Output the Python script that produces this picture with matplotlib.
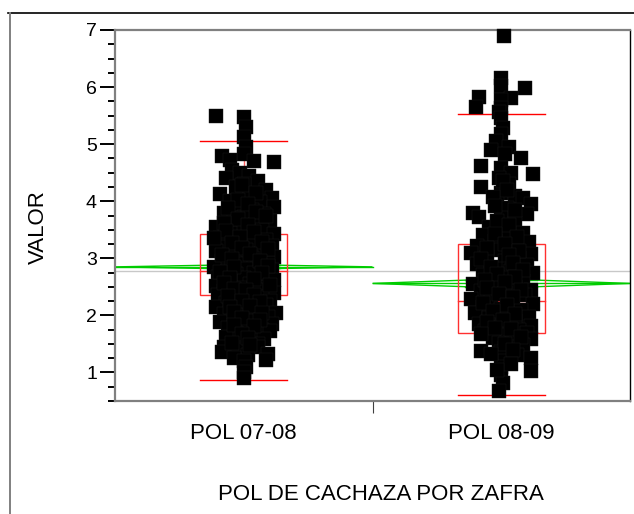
import numpy as np
import matplotlib
matplotlib.use("Agg")
import matplotlib.pyplot as plt
from matplotlib.lines import Line2D
from matplotlib.patches import Polygon, Rectangle
from matplotlib.ticker import FixedLocator, MultipleLocator

plt.rcParams['font.family'] = ['Liberation Sans', 'DejaVu Sans']

# categorias
categories = ["POL 07-08", "POL 08-09"]

# valores de POL 07-08 y su dispersion horizontal
pol_0708 = [5.49, 5.47, 5.30, 5.12, 4.95, 4.82, 4.80, 4.72, 4.70, 4.68,
            4.55, 4.50, 4.45, 4.40, 4.35, 4.30, 4.25, 4.20, 4.12, 4.10,
            4.05, 4.00, 3.98, 3.92, 3.90, 3.85, 3.80, 3.78, 3.72, 3.70,
            3.65, 3.60, 3.55, 3.52, 3.50, 3.45, 3.42, 3.40, 3.35, 3.32,
            3.30, 3.25, 3.22, 3.20, 3.15, 3.12, 3.10, 3.05, 3.02, 3.00,
            2.95, 2.92, 2.90, 2.88, 2.85, 2.82, 2.80, 2.78, 2.75, 2.72,
            2.70, 2.68, 2.65, 2.62, 2.60, 2.58, 2.55, 2.52, 2.50, 2.48,
            2.45, 2.42, 2.40, 2.38, 2.35, 2.32, 2.30, 2.28, 2.25, 2.22,
            2.20, 2.18, 2.15, 2.12, 2.10, 2.05, 2.02, 2.00, 1.98, 1.95,
            1.90, 1.88, 1.85, 1.80, 1.78, 1.75, 1.72, 1.70, 1.65, 1.62,
            1.58, 1.55, 1.50, 1.45, 1.44, 1.40, 1.35, 1.32, 1.30, 1.25,
            1.22, 1.20, 1.10, 1.00, 0.90,
            4.28, 4.15, 4.02, 3.95, 3.88, 3.82, 3.75, 3.68, 3.62, 3.58,
            3.48, 3.46, 3.38, 3.36, 3.28, 3.26, 3.18, 3.16, 3.08, 3.06,
            2.98, 2.96, 2.86, 2.84, 2.76, 2.74, 2.66, 2.64, 2.56, 2.54,
            2.46, 2.44, 2.36, 2.34, 2.26, 2.24, 2.16, 2.14, 2.06, 2.04,
            1.96, 1.92, 1.84, 1.82, 1.68, 1.60, 1.52, 1.48]
jit_0708 = [-0.109, 0.000, 0.008, 0.000, 0.008, 0.000, -0.085, -0.054, 0.039, 0.117,
            -0.047, -0.016, 0.019, -0.070, 0.054, 0.000, -0.031, 0.085, -0.093, 0.023,
            0.109, -0.054, 0.062, -0.016, 0.117, 0.031, -0.078, 0.078, 0.000, -0.039,
            0.101, 0.047, -0.109, -0.008, 0.070, -0.054, 0.117, 0.023, -0.093, 0.085,
            -0.023, 0.039, 0.109, -0.070, 0.008, -0.109, 0.070, -0.039, 0.117, 0.031,
            -0.085, 0.093, -0.016, 0.054, -0.117, 0.008, 0.109, -0.062, 0.039, -0.031,
            0.078, -0.101, 0.000, 0.117, -0.054, 0.062, 0.023, -0.109, 0.093, -0.016,
            0.047, -0.078, 0.117, 0.000, -0.101, 0.070, -0.039, 0.031, 0.101, -0.070,
            0.008, 0.085, -0.109, -0.023, 0.054, 0.124, -0.078, 0.023, 0.093, -0.047,
            0.039, -0.093, 0.109, 0.000, -0.062, 0.070, 0.101, -0.031, 0.031, -0.070,
            0.078, 0.000, 0.054, -0.078, 0.054, -0.023, -0.085, 0.093, 0.016, -0.039,
            0.085, 0.000, 0.008, 0.000, 0.000,
            -0.008, 0.047, -0.023, 0.016, -0.062, 0.047, 0.085, -0.023, -0.078, 0.016,
            -0.070, 0.039, -0.016, -0.117, 0.070, -0.047, -0.008, 0.093, 0.023, -0.085,
            -0.047, 0.062, 0.093, -0.039, -0.093, 0.070, -0.054, 0.039, -0.078, 0.101,
            -0.039, 0.008, 0.039, -0.062, -0.008, 0.062, 0.023, -0.054, -0.039, 0.070,
            -0.008, 0.062, -0.039, 0.039, -0.008, 0.016, -0.047, 0.023]

# valores de POL 08-09
pol_0809 = [6.89, 6.16, 6.02, 5.98, 5.82, 5.80, 5.78, 5.65, 5.63, 5.56,
            5.45, 5.28, 5.18, 5.05, 4.95, 4.90, 4.82, 4.75, 4.62, 4.58,
            4.50, 4.47, 4.40, 4.30, 4.25, 4.15, 4.10, 4.05, 4.00, 3.95,
            3.88, 3.80, 3.78, 3.72, 3.70, 3.62, 3.55, 3.50, 3.45, 3.40,
            3.35, 3.30, 3.28, 3.22, 3.20, 3.15, 3.10, 3.08, 3.02, 3.00,
            2.95, 2.90, 2.88, 2.82, 2.78, 2.75, 2.70, 2.65, 2.60, 2.55,
            2.52, 2.50, 2.45, 2.42, 2.40, 2.35, 2.30, 2.28, 2.25, 2.20,
            2.15, 2.12, 2.10, 2.05, 2.00, 1.98, 1.95, 1.90, 1.85, 1.82,
            1.80, 1.75, 1.72, 1.70, 1.65, 1.60, 1.58, 1.55, 1.52, 1.48,
            1.45, 1.42, 1.37, 1.35, 1.30, 1.26, 1.20, 1.10, 1.03, 0.95,
            0.82, 0.68,
            4.35, 4.20, 4.08, 3.92, 3.85, 3.65, 3.58, 3.42, 3.38, 3.25,
            3.18, 3.12, 3.05, 2.98, 2.92, 2.85, 2.80, 2.72, 2.68, 2.62,
            2.58, 2.48, 2.44, 2.38, 2.32, 2.22, 2.18, 2.08, 2.02, 1.92,
            1.88, 1.78, 1.76, 1.68, 1.62, 1.50, 1.40, 1.32, 1.15, 1.05]
jit_0809 = [0.012, 0.000, 0.000, 0.093, -0.085, 0.039, 0.000, -0.097, 0.000, -0.008,
            0.000, 0.008, 0.000, -0.019, 0.031, -0.039, 0.016, 0.078, -0.078, 0.000,
            0.039, 0.124, -0.008, 0.031, -0.078, 0.000, 0.054, 0.085, -0.016, 0.117,
            0.023, -0.109, 0.101, -0.085, 0.000, 0.054, -0.047, 0.016, 0.085, -0.070,
            0.031, -0.023, 0.109, -0.093, 0.047, 0.000, -0.117, 0.117, -0.054, 0.070,
            0.016, -0.093, 0.101, -0.023, 0.039, 0.124, -0.070, 0.008, 0.085, -0.109,
            -0.031, 0.054, 0.117, -0.078, 0.016, 0.093, -0.039, -0.117, 0.039, 0.124,
            -0.070, 0.000, 0.078, -0.101, 0.023, 0.109, -0.047, 0.054, -0.085, 0.117,
            0.000, 0.070, -0.062, 0.101, 0.023, -0.031, 0.117, 0.054, -0.008, 0.085,
            0.039, 0.016, -0.078, 0.000, 0.062, 0.117, 0.016, 0.000, 0.117, 0.000,
            0.008, -0.008,
            0.008, 0.023, -0.031, -0.023, 0.054, -0.016, 0.031, -0.023, 0.062, 0.016,
            -0.054, 0.070, 0.031, -0.078, 0.047, -0.039, 0.085, -0.016, 0.054, -0.062,
            0.016, -0.054, 0.078, -0.008, 0.047, -0.070, 0.023, -0.031, 0.054, 0.008,
            -0.054, -0.023, 0.039, -0.078, 0.078, 0.016, 0.047, -0.039, 0.039, -0.016]

# resumen por grupo
q1 = [2.35, 1.69]
median = [2.77, 2.26]
q3 = [3.42, 3.25]
whisk_lo = [0.86, 0.60]
whisk_hi = [5.05, 5.53]
means = [2.85, 2.56]
mean_ci = [0.04, 0.08]
grand_mean = 2.78

W, H = 634, 514
fig = plt.figure(figsize=(W / 100, H / 100), dpi=100)
ax = fig.add_axes([115 / W, 1 - 401 / H, 515 / W, 371 / H])

centers = [0.5, 1.5]
box_hw = 0.168

# linea de la media general
ax.axhline(grand_mean, color='#c8c8c8', lw=1.0, zorder=1)

for i, c in enumerate(centers):
    # diamante de la media
    x0, x1 = c - 0.5, c + 0.5
    m, ci = means[i], mean_ci[i]
    ax.add_patch(Polygon([[x0, m], [c, m + ci], [x1, m], [c, m - ci]],
                         closed=True, fill=False, edgecolor='#00cc00', lw=1.0, zorder=2))
    ax.plot([x0, x1], [m, m], color='#00cc00', lw=1.0, zorder=2)
    ov = ci * np.sqrt(2) / 2
    for s in (1, -1):
        ax.plot([c - 0.14, c + 0.14], [m + s * ov, m + s * ov],
                color='#00cc00', lw=1.0, zorder=2)

    # caja de cuantiles
    ax.add_patch(Rectangle((c - box_hw, q1[i]), 2 * box_hw, q3[i] - q1[i],
                           fill=False, edgecolor='#ff3030', lw=1.0, zorder=3))
    ax.plot([c - box_hw, c + box_hw], [median[i], median[i]], color='#ff3030', lw=1.0, zorder=3)
    ax.plot([c - box_hw, c + box_hw], [whisk_hi[i], whisk_hi[i]], color='#ff0000', lw=1.0, zorder=3)
    ax.plot([c - box_hw, c + box_hw], [whisk_lo[i], whisk_lo[i]], color='#ff0000', lw=1.0, zorder=3)
    ax.plot([c, c], [q3[i], whisk_hi[i]], color='#ff6060', lw=1.0, zorder=3)
    ax.plot([c, c], [whisk_lo[i], q1[i]], color='#ff6060', lw=1.0, zorder=3)

# puntos
for c, vals, jit in zip(centers, [pol_0708, pol_0809], [jit_0708, jit_0809]):
    ax.scatter(c + np.array(jit), vals, marker='s', s=92, c='black',
               edgecolors='#1a1a1a', linewidths=0.3, zorder=5, clip_on=False)

ax.set_xlim(0, 2)
ax.set_ylim(0.5, 7)

# ejes
for side in ('left', 'top', 'bottom'):
    ax.spines[side].set_color('#808080')
    ax.spines[side].set_linewidth(1.6)
ax.spines['right'].set_color('black')
ax.spines['right'].set_linewidth(1.0)

ax.yaxis.set_major_locator(MultipleLocator(1))
ax.yaxis.set_minor_locator(MultipleLocator(0.25))
ax.tick_params(axis='y', which='major', length=11, width=1.4, color='black',
               labelsize=14, pad=2)
ax.tick_params(axis='y', which='minor', length=5, width=1.4, color='black')
ax.set_yticks([1, 2, 3, 4, 5, 6, 7])

ax.xaxis.set_major_locator(FixedLocator(centers))
ax.set_xticklabels(categories)
ax.xaxis.set_minor_locator(FixedLocator([1.0]))
ax.tick_params(axis='x', which='major', length=0, labelsize=16, pad=16)
ax.tick_params(axis='x', which='minor', length=8.5, width=0.8, color='#404040')

fig.text(38 / W, 1 - 227 / H, "VALOR", rotation=90, ha='center', va='center', fontsize=16)
fig.text(381 / W, 1 - 494 / H, "POL DE CACHAZA POR ZAFRA", ha='center', va='center', fontsize=16)

# marco exterior
fig.add_artist(Line2D([8 / W, 1], [1 - 13 / H, 1 - 13 / H], color='black', lw=1.2))
fig.add_artist(Line2D([10 / W, 10 / W], [0, 1 - 13 / H], color='#808080', lw=1.4))

fig.savefig("out.png", dpi=100)
